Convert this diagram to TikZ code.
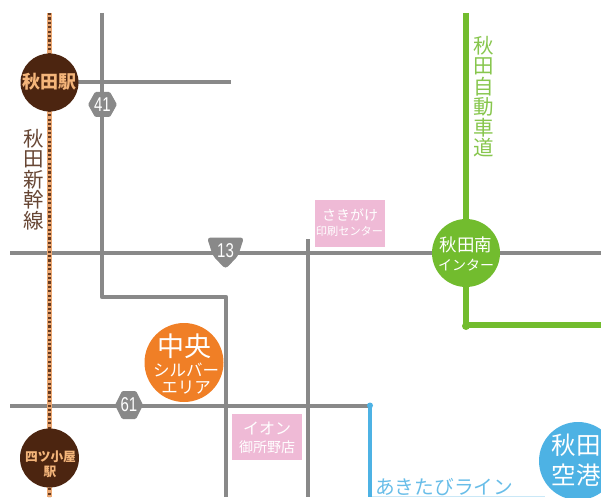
\documentclass[tikz,border=0pt]{standalone}
\usepackage{fontspec}
\setmainfont{Noto Sans CJK JP}
\newfontfamily\latinfont[FakeStretch=0.75]{Liberation Sans}
\definecolor{road}{HTML}{898989}
\definecolor{rail}{HTML}{EBA873}
\definecolor{railbrown}{HTML}{4C2510}
\definecolor{tan}{HTML}{F4B57A}
\definecolor{lime}{HTML}{72BC2E}
\definecolor{sky}{HTML}{4DB2E4}
\definecolor{amber}{HTML}{F07F26}
\definecolor{pinkbox}{HTML}{EFBAD6}
\tikzset{
  x=1pt,y=-1pt,
  roadline/.style={draw=road,line width=4.5pt},
  greenline/.style={draw=lime,line width=6pt},
  blueline/.style={draw=sky,line width=4.5pt},
  disc/.style={circle,inner sep=0pt},
  shield/.style={fill=road,rounded corners=1.2pt},
  shieldnum/.style={inner sep=0pt,text=white,font=\latinfont\fontsize{20}{20}\selectfont},
  pinkrect/.style={fill=pinkbox,inner sep=0pt,minimum width=70.5pt,minimum height=46.5pt},
  wtxt/.style={inner sep=0pt,text=white},
  labeltxt/.style={inner sep=0pt,align=center},
}
\begin{document}
\begin{tikzpicture}
\useasboundingbox (0,0) rectangle (601,497);
\coordinate (railtop) at (49.5,13);
\coordinate (railbot) at (49.5,497);
\coordinate (r41top) at (102,13);
\coordinate (r41a) at (102,297);
\coordinate (r41b) at (226,297);
\coordinate (r41c) at (226,497);
\coordinate (r7e) at (231,82);
\coordinate (r13l) at (10,253);
\coordinate (r13r) at (601,253);
\coordinate (r61l) at (10,406);
\coordinate (r61r) at (370,406);
\coordinate (v308t) at (308,239);
\coordinate (v308b) at (308,497);
\coordinate (gtop) at (466,13);
\coordinate (gmid) at (466,325);
\coordinate (gend) at (601,325);
\coordinate (btop) at (370,406);
\coordinate (bbot) at (370,497);
% roads
\draw[roadline,line join=round] (r41top) -- (r41a) -- (r41b) -- (r41c);
\draw[roadline] (49,82) -- (r7e);
\draw[roadline] (r13l) -- (r13r);
\draw[roadline] (r61l) -- (r61r);
\draw[roadline] (v308t) -- (v308b);
% rail
\draw[draw=rail,line width=5pt] (railtop) -- (railbot);
\draw[draw=railbrown!85!rail,line width=2.6pt,dash pattern=on 2.2pt off 2.2pt] (railtop) -- (railbot);
% expressway and airport line
\draw[greenline] (gtop) -- (gmid) -- (gend);
\fill[lime] (466,326) circle (4pt);
\draw[blueline] (btop) -- (bbot);
\fill[sky] (370,405.5) circle (3pt);
\draw[draw=sky!30,line width=1pt] (372,496.5) -- (545,496.5);
% shields
\fill[shield] (88,104.5) -- (95,92) -- (110,92) -- (117,104.5) -- (110,117) -- (95,117) -- cycle;
\node[shieldnum] (h41) at (102.5,104.5) {41};
\fill[shield] (115,405) -- (122,391) -- (136,391) -- (143,405) -- (136,419) -- (122,419) -- cycle;
\node[shieldnum] (h61) at (129,405) {61};
\fill[shield,rounded corners=3.5pt] (207,237.5) -- (244,237.5) -- (238,256) -- (225.5,269) -- (213,256) -- cycle;
\node[shieldnum] (h13) at (225.5,251) {13};
% stations
\node[disc,fill=railbrown,minimum size=58pt] (akita) at (49.5,82.5) {};
\node[inner sep=0pt,text=tan,font=\bfseries\fontsize{18}{18}\selectfont] (akitat) at (49.5,82) {秋田駅};
\node[disc,fill=railbrown,minimum size=59pt] (yotsu) at (49.5,458) {};
\node[inner sep=0pt,text=tan,font=\bfseries\fontsize{12.7}{13}\selectfont] (yotsua) at (50.5,457) {四ツ小屋};
\node[inner sep=0pt,text=tan,font=\bfseries\fontsize{12.7}{13}\selectfont] (yotsub) at (50,472) {駅};
\node[disc,fill=amber,minimum size=79pt] (chuo) at (184,362.5) {};
\node[wtxt,font=\fontsize{27}{27}\selectfont] (chuoa) at (184,346) {中央};
\node[wtxt,font=\fontsize{16.5}{17}\selectfont] (chuob) at (186,370) {シルバー};
\node[wtxt,font=\fontsize{16.5}{17}\selectfont] (chuoc) at (186,388) {エリア};
\node[disc,fill=lime,minimum size=68pt] (inter) at (466,253) {};
\node[wtxt,font=\fontsize{17.5}{18}\selectfont] (intera) at (466,245) {秋田南};
\node[wtxt,font=\fontsize{14}{14}\selectfont] (interb) at (466,265) {インター};
\node[disc,fill=sky,minimum size=78pt] (airport) at (578,461) {};
\node[wtxt,font=\fontsize{24.5}{25}\selectfont] (aira) at (576,445) {秋田};
\node[wtxt,font=\fontsize{24.5}{25}\selectfont] (airb) at (576,475) {空港};
% boxes
\node[pinkrect] (sakigake) at (350,223.5) {};
\node[wtxt,font=\fontsize{14}{14}\selectfont] (sakia) at (350,215) {さきがけ};
\node[wtxt,font=\fontsize{11.2}{12}\selectfont] (sakib) at (349.5,231.5) {印刷センター};
\node[pinkrect] (aeon) at (267,437) {};
\node[wtxt,font=\fontsize{16}{16}\selectfont] (aeona) at (267,428) {イオン};
\node[wtxt,font=\fontsize{14}{14}\selectfont] (aeonb) at (267,447) {御所野店};
% vertical and line labels
\node[labeltxt,text=railbrown!85!white,font=\fontsize{20.5}{20.5}\selectfont] (shin) at (33.5,179.5) {秋\\田\\新\\幹\\線};
\node[labeltxt,text=lime!85!white,font=\fontsize{20.5}{20.5}\selectfont] (auto) at (483.5,96.5) {秋\\田\\自\\動\\車\\道};
\node[labeltxt,text=sky!85!white,anchor=west,font=\fontsize{19.7}{20}\selectfont] (akitabi) at (375,487) {あきたびライン};
\end{tikzpicture}
\end{document}
